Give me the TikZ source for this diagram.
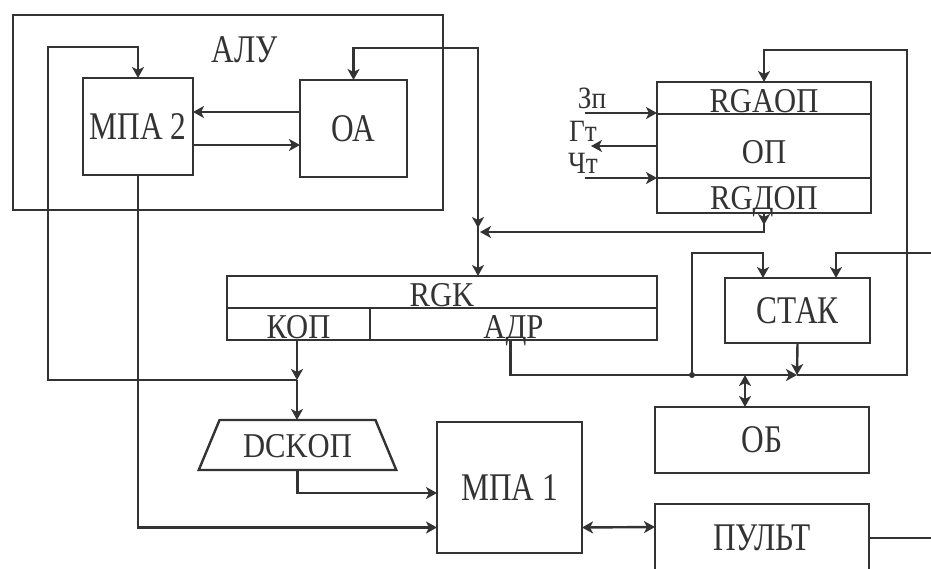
\documentclass[tikz,border=0pt]{standalone}
\usepackage{fontspec}
\setmainfont{Liberation Serif}[FakeStretch=0.88]
\newfontfamily\blkfont{Liberation Serif}[FakeStretch=0.8]
\definecolor{ink}{HTML}{333333}
\usetikzlibrary{arrows.meta,positioning,shapes.geometric,calc}
\tikzset{
  blk/.style={draw=ink,line width=1.2pt,inner sep=0pt,outer sep=0pt,text=ink,
    font=\blkfont\fontsize{19.6}{20}\selectfont},
  cell/.style={draw=ink,line width=1.2pt,inner sep=0pt,outer sep=0pt,text=ink,
    text height=14pt,text depth=0pt,font=\fontsize{17.4}{18}\selectfont},
  sig/.style={inner sep=0pt,text=ink,font=\fontsize{15.5}{16}\selectfont},
  wire/.style={draw=ink,line width=1.2pt},
  flow/.style={wire,-{Stealth[length=5.5pt,width=6pt,inset=1.5pt]}},
  bothflow/.style={wire,{Stealth[length=5.5pt,width=6pt,inset=1.5pt]}-{Stealth[length=5.5pt,width=6pt,inset=1.5pt]}},
}

\begin{document}
\begin{tikzpicture}[x=0.5pt,y=-0.5pt]
  \useasboundingbox (0,0) rectangle (931,568);
  \fill[white] (0,0) rectangle (931,568);
  % ALU
  \node[blk,minimum width=215pt,minimum height=97.5pt] (alu) at (228,112.5) {};
  \node[blk,draw=none] (alulbl) at (245,50) {АЛУ};
  \node[blk,minimum width=55pt,minimum height=48.5pt] (mpa2) at (138,126.5) {МПА 2};
  \node[blk,minimum width=53.5pt,minimum height=48.5pt] (oa) at (353.5,128.5) {ОА};
  % memory
  \node[cell,minimum width=107pt,minimum height=16pt] (rgaop) at (764,98) {RGAОП};
  \node[cell,text height=17pt,minimum width=107pt,minimum height=32pt] (opm) at (764,146) {ОП};
  \node[cell,minimum width=107pt,minimum height=17.5pt] (rgdop) at (764,195.5) {RGДОП};
  \node[sig] (zp) at (592,98) {Зп};
  \node[sig] (gt) at (583,131) {Гт};
  \node[sig] (cht) at (583,163) {Чт};
  % command register
  \node[cell,minimum width=215pt,minimum height=16pt] (rgk) at (442,292) {RGK};
  \node[cell,minimum width=71.5pt,minimum height=16pt] (kop) at (298.5,324) {КОП};
  \node[cell,minimum width=143.5pt,minimum height=16pt] (adr) at (513.5,324) {АДР};
  \node[cell,text height=12pt,trapezium,trapezium angle=58.8,trapezium stretches=true,
    minimum width=99.5pt,minimum height=25pt] (dckop) at (297.5,445) {DCKОП};
  % stack, buffer, control
  \node[blk,minimum width=72.5pt,minimum height=32.5pt] (stak) at (797.5,310.5) {СТАК};
  \node[blk,minimum width=107pt,minimum height=33pt] (ob) at (762,440) {ОБ};
  \node[blk,minimum width=107pt,minimum height=34pt] (pult) at (762,538) {ПУЛЬТ};
  \node[blk,minimum width=72.5pt,minimum height=65.5pt] (mpa1) at (509.5,487.5) {МПА 1};

  \coordinate (jk) at (297,380);
  \coordinate (jr) at (478,232);
  \coordinate (jb) at (797,375);
  \coordinate (jd) at (692,375);
  \coordinate (zpin) at (585,113);
  \coordinate (gtout) at (591,146);
  \coordinate (chtin) at (585,178);
  \coordinate (stakin) at (931,253);
  \coordinate (pultout) at (931,538);
  \coordinate (adrout) at ($(adr.south)+(-3,0)$);
  \coordinate (sl) at ($(stak.north west)+(38,0)$);
  \coordinate (sr) at ($(stak.north east)+(-34,0)$);

  % ALU links
  \draw[flow] (oa.west |- 0,112) -- (mpa2.east |- 0,112);
  \draw[flow] (mpa2.east |- 0,145) -- (oa.west |- 0,145);
  \draw[flow] (jk) -- (48,380) -- (48,47) -| (mpa2.north);
  \draw[flow] (jr) -- (jr |- 0,48) -| (oa.north);
  \draw[flow] (jr |- 0,180) -- ($(jr)+(0,-4)$);
  \draw[flow] (jr) -- (rgk.north -| jr);
  % memory links
  \draw[flow] (zpin) -- (zpin -| rgaop.west);
  \draw[flow] (opm.west) -- (gtout);
  \draw[flow] (chtin) -- (chtin -| rgdop.west);
  \draw[flow] (rgdop.south) -- ($(rgdop.south)+(0,12)$);
  \draw[flow] ($(rgdop.south)+(0,6)$) |- ($(jr)+(2,0)$);
  % command decode
  \draw[flow] (kop.south -| jk) -- (jk);
  \draw[flow] (jk) -- (dckop.north -| jk);
  \draw[flow] (dckop.south) |- ($(mpa1.west)+(0,5.5)$);
  \draw[flow] (mpa2.south) |- ($(mpa1.west)+(0,40)$);
  \draw[bothflow] ($(mpa1.east)+(0,40)$) -- ($(pult.west)+(0,-11)$);
  \draw[wire] (pult.east) -- (pultout);
  % address bus
  \draw[flow] (adrout) |- (jb);
  \draw[flow] (stak.south) -- (jb);
  \draw[flow] (jb) -- (907,375) -- (907,50) -| (rgaop.north);
  \fill[ink] (jd) circle[radius=1.5pt];
  \draw[flow] (jd) |- ($(sl)+(0,-25)$) -- (sl);
  \draw[flow] (stakin) -| (sr);
  \draw[bothflow] ($(ob.north)+(-17,0)$) -- ($(ob.north)+(-17,-32)$);
\end{tikzpicture}
\end{document}
